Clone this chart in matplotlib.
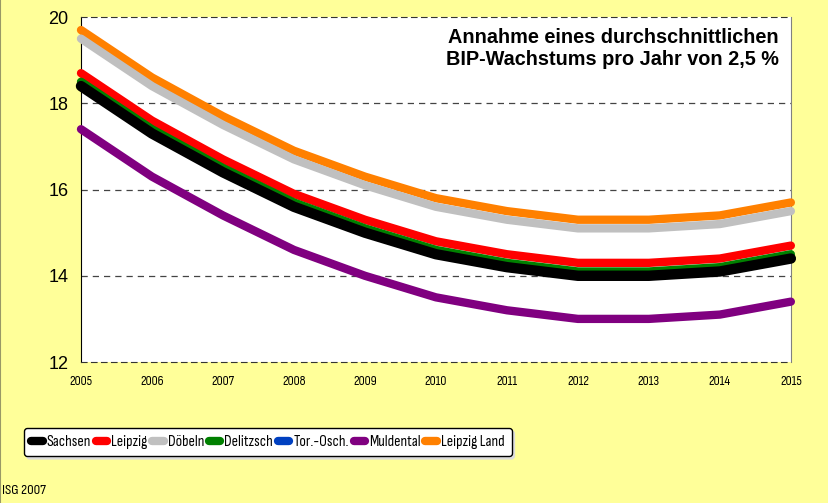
import matplotlib.pyplot as plt
from matplotlib.lines import Line2D
from matplotlib import font_manager
from matplotlib.font_manager import FontProperties
from matplotlib.textpath import text_to_path

plt.rcParams['font.family'] = ['Liberation Sans', 'DejaVu Sans']


def text_width(fp, s="Leipzig Land 2005"):
    w, _, _ = text_to_path.get_text_width_height_descent(s, fp, ismath=False)
    return w


# schmale Schrift suchen (Original nutzt eine stark gestauchte Arial)
base_w = text_width(FontProperties(family="Liberation Sans", size=12))
best_file, best_diff = None, 1.0
for f in font_manager.fontManager.ttflist:
    if f.style != "normal" or f.weight not in (400, "normal", "regular"):
        continue
    if "Mono" in f.name:
        continue
    if f.stretch in ("normal", 500) and "Narrow" not in f.name and "Condensed" not in f.name:
        continue
    try:
        w = text_width(FontProperties(fname=f.fname, size=12))
    except Exception:
        continue
    diff = abs(w / base_w - 0.72)
    if diff < best_diff:
        best_file, best_diff = f.fname, diff


def narrow(size):
    if best_file:
        return FontProperties(fname=best_file, size=size)
    return FontProperties(family="Liberation Sans", size=size)


years = [2005, 2006, 2007, 2008, 2009, 2010, 2011, 2012, 2013, 2014, 2015]

sachsen = [18.4, 17.3, 16.4, 15.6, 15.0, 14.5, 14.2, 14.0, 14.0, 14.1, 14.4]
leipzig = [18.7, 17.6, 16.7, 15.9, 15.3, 14.8, 14.5, 14.3, 14.3, 14.4, 14.7]
doebeln = [19.5, 18.4, 17.5, 16.7, 16.1, 15.6, 15.3, 15.1, 15.1, 15.2, 15.5]
delitzsch = [18.5, 17.4, 16.5, 15.7, 15.1, 14.6, 14.3, 14.1, 14.1, 14.2, 14.5]
tor_osch = [None] * len(years)  # Linie im Original nicht sichtbar
muldental = [17.4, 16.3, 15.4, 14.6, 14.0, 13.5, 13.2, 13.0, 13.0, 13.1, 13.4]
leipzig_land = [19.7, 18.6, 17.7, 16.9, 16.3, 15.8, 15.5, 15.3, 15.3, 15.4, 15.7]

series = [
    ("Sachsen", sachsen, "#000000", 7.5),
    ("Leipzig", leipzig, "#FF0000", 6),
    ("Döbeln", doebeln, "#C0C0C0", 6),
    ("Delitzsch", delitzsch, "#008000", 6),
    ("Tor.-Osch.", tor_osch, "#0040C0", 6),
    ("Muldental", muldental, "#800080", 6),
    ("Leipzig Land", leipzig_land, "#FF8000", 6),
]

fig = plt.figure(figsize=(8.29, 5.03), dpi=100, facecolor="#FFFF99")
renderer = fig.canvas.get_renderer()


def fit_size(s, target_px, start=10, cap=14):
    size = start
    for _ in range(3):
        t = fig.text(0, 0, s, fontproperties=narrow(size))
        w = t.get_window_extent(renderer).width
        t.remove()
        size *= target_px / w
    return min(size, cap)


ax = fig.add_axes([0.0977, 0.2803, 0.8563, 0.6857])
ax.set_facecolor("white")

# Zeichenreihenfolge: Sachsen oben
draw_order = ["Leipzig Land", "Döbeln", "Muldental", "Tor.-Osch.", "Leipzig", "Delitzsch", "Sachsen"]
lookup = {s[0]: s for s in series}
for z, name in enumerate(draw_order):
    _, vals, col, lw = lookup[name]
    yv = [float('nan') if v is None else v for v in vals]
    ax.plot(years, yv, color=col, lw=lw, solid_capstyle="round",
            solid_joinstyle="round", zorder=3 + z, clip_on=False)

ax.set_xlim(2005, 2015)
ax.set_ylim(12, 20)
xsize = fit_size("2005", 23, cap=14)
ax.set_xticks(years, [str(y) for y in years], fontproperties=narrow(xsize))
ax.set_yticks([12, 14, 16, 18, 20])
ax.tick_params(axis="x", length=0, pad=9)
ax.tick_params(axis="y", length=0, pad=9, labelsize=13)

for yv in [14, 16, 18]:
    ax.axhline(yv, color="#444444", lw=0.9, ls=(0, (5, 4)), zorder=1)

ax.spines["left"].set_color("black")
ax.spines["right"].set_color("#808080")
ax.spines["top"].set_linestyle((0, (5, 4)))
ax.spines["bottom"].set_linestyle((0, (5, 4)))
ax.spines["top"].set_color("#333333")
ax.spines["bottom"].set_color("#333333")

ax.text(0.983, 0.968, "Annahme eines durchschnittlichen\nBIP-Wachstums pro Jahr von 2,5 %",
        transform=ax.transAxes, ha="right", va="top", fontsize=14.3,
        fontweight="bold", linespacing=1.2, zorder=20)

handles = [Line2D([], [], color=c, lw=6, solid_capstyle="round") for _, _, c, _ in series]
labels = [s[0] for s in series]


def make_legend(size):
    lg = fig.legend(handles, labels, loc="center", bbox_to_anchor=(0.323, 0.121),
                    ncol=7, frameon=True, fancybox=True, shadow={"color": "#DDDDDD", "alpha": 1},
                    prop=narrow(size), handlelength=0.75, handletextpad=0.25,
                    columnspacing=0.3, borderpad=0.45, facecolor="white", edgecolor="black",
                    framealpha=1, borderaxespad=0)
    lg.get_frame().set_linewidth(1.0)
    return lg


# Legendenbreite an das Original (ca. 487 px) anpassen
lsize = 13
for _ in range(4):
    leg = make_legend(lsize)
    w = leg.get_window_extent(renderer).width
    leg.remove()
    lsize *= 487 / w
lsize = min(lsize, 13.5)
leg = make_legend(lsize)

fig.text(0.003, 0.012, "ISG 2007", ha="left", va="bottom",
         fontproperties=narrow(fit_size("ISG 2007", 44, cap=11)))

fig.add_artist(Line2D([0.0006, 0.0006], [0, 1], color="#999966", lw=1.5, transform=fig.transFigure))

fig.savefig("out.png", dpi=100, facecolor=fig.get_facecolor())
